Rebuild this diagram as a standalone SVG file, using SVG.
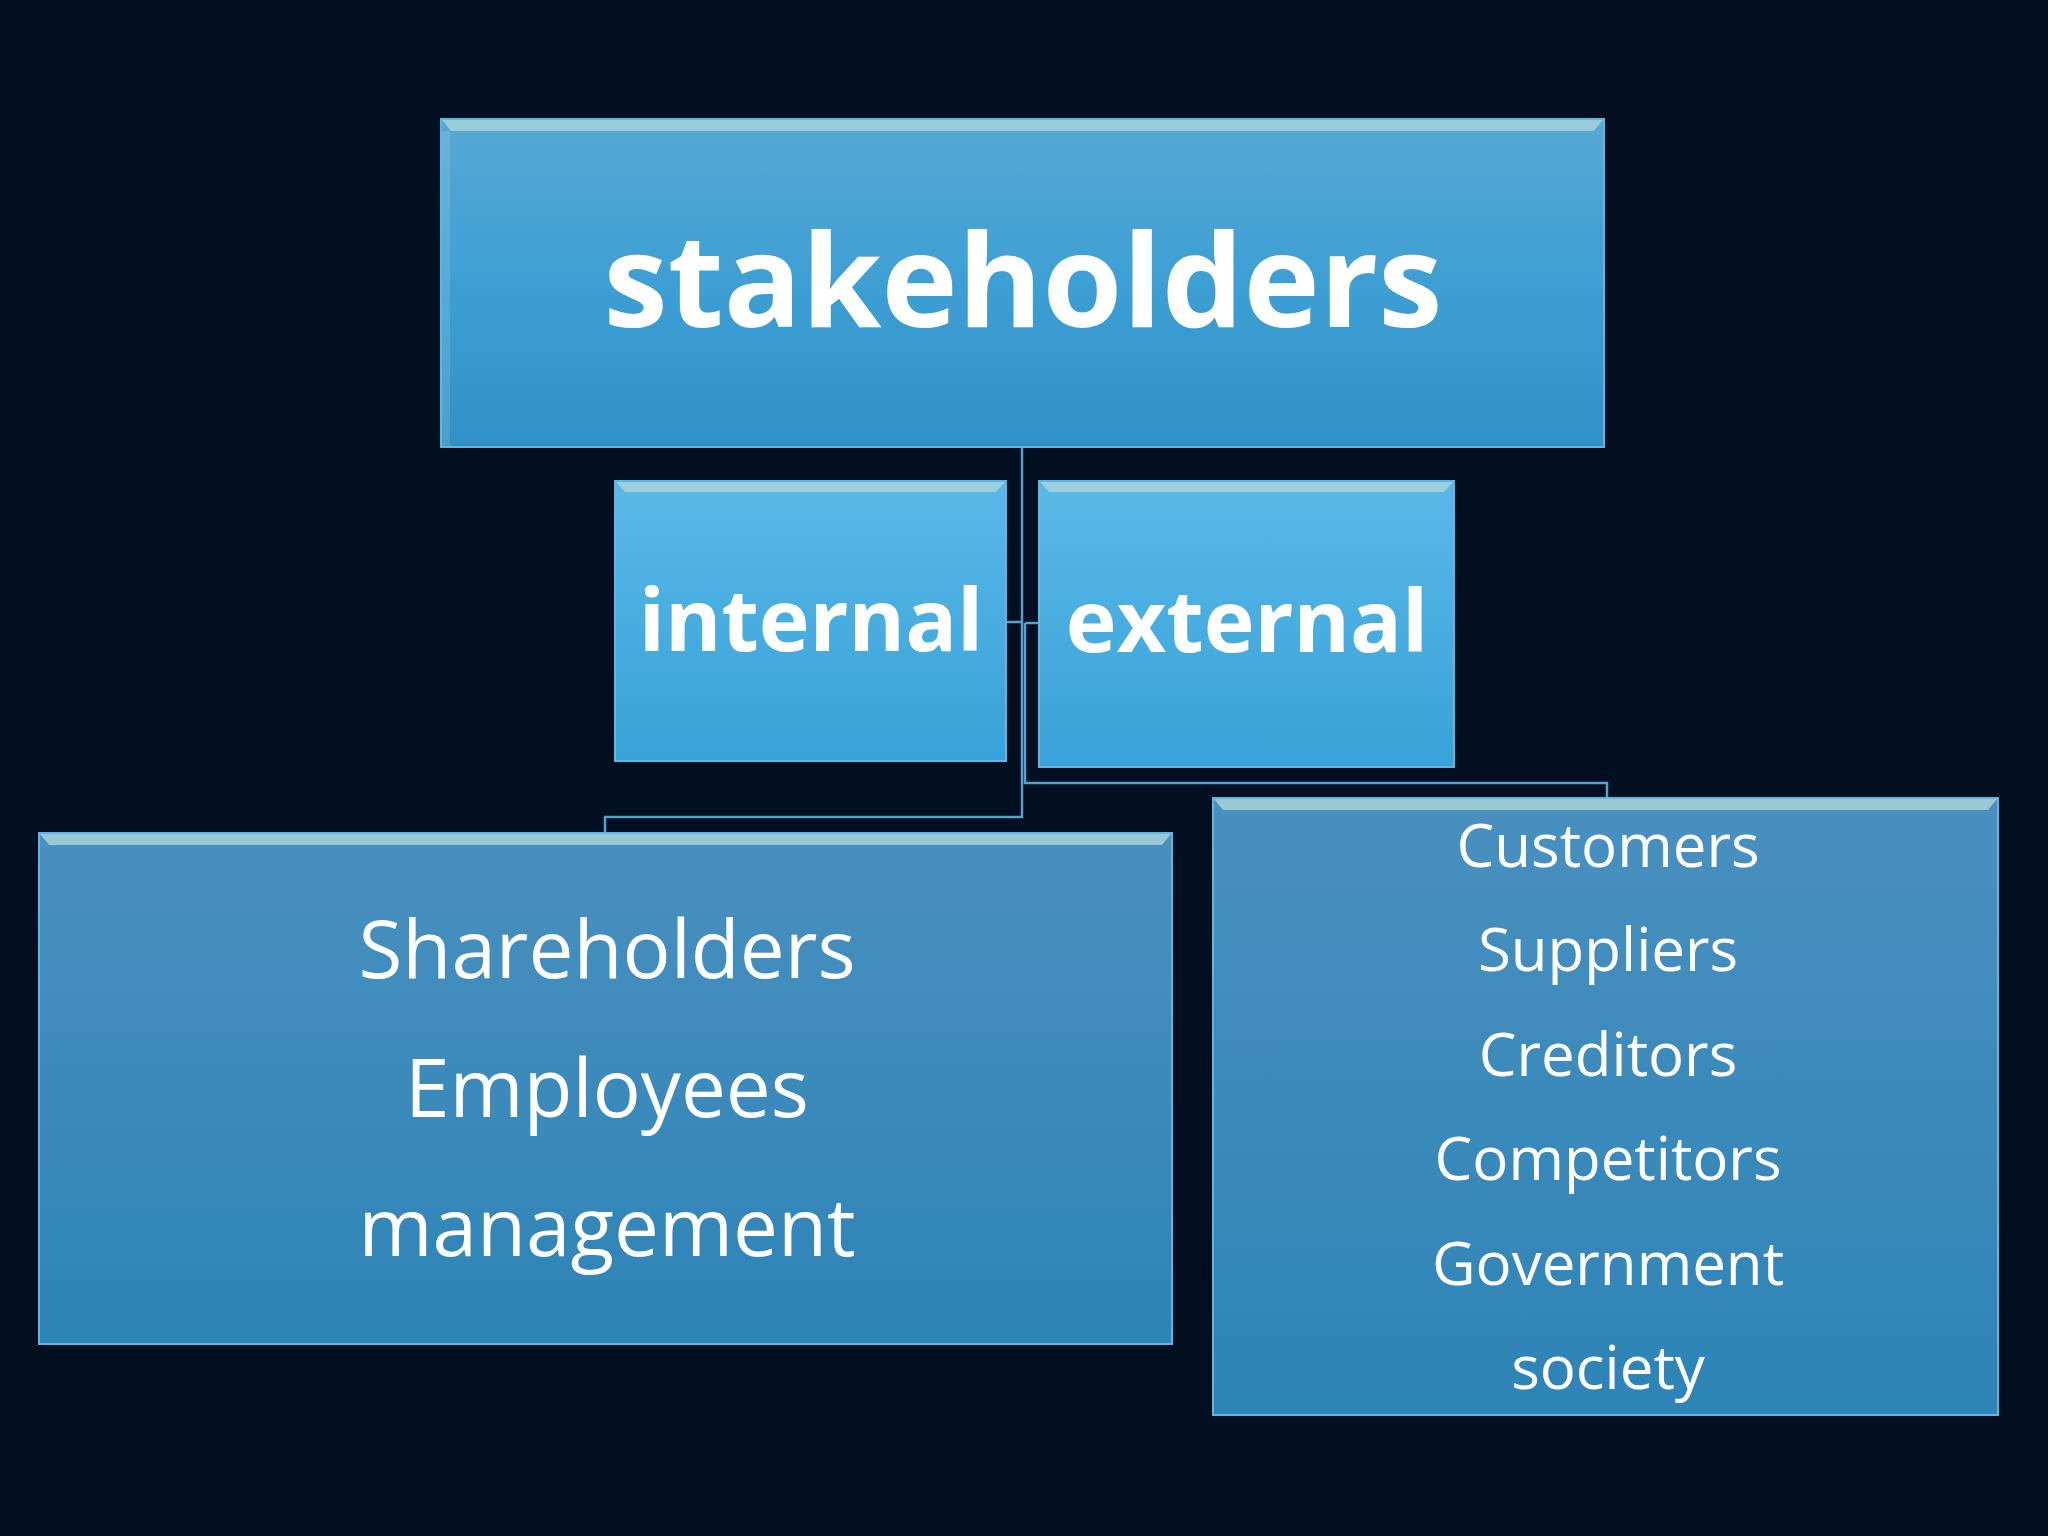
<svg xmlns="http://www.w3.org/2000/svg" width="2048" height="1536" viewBox="0 0 2048 1536">
<style>
.box{stroke:#5cb6e6;stroke-width:2}
.bev{fill:#a8d2d8;opacity:0.85}
.side{fill:#ffffff;opacity:0.12}
.t{fill:#ffffff;font-family:"Open Sans","Liberation Sans",sans-serif;text-anchor:middle}
.b{font-weight:bold}
.con{fill:none;stroke:#5a9ed2;stroke-width:2.5}
</style>
<defs>
<linearGradient id="gTop" x1="0" y1="0" x2="0" y2="1">
<stop offset="0" stop-color="#57a8d4"/><stop offset="0.5" stop-color="#3e9fd4"/><stop offset="1" stop-color="#3191c6"/>
</linearGradient>
<linearGradient id="gMid" x1="0" y1="0" x2="0" y2="1">
<stop offset="0" stop-color="#5ab8e8"/><stop offset="1" stop-color="#38a2d8"/>
</linearGradient>
<linearGradient id="gBot" x1="0" y1="0" x2="0" y2="1">
<stop offset="0" stop-color="#4990bf"/><stop offset="1" stop-color="#2d84b6"/>
</linearGradient>
</defs>
<rect width="2048" height="1536" fill="#010f21"/>
<g id="connectors">
<path class="con" d="M1022 447 V817 H605 V833"/>
<path class="con" d="M1025 623 V783 H1607 V798"/>
<path class="con" d="M1006 622 H1022"/>
<path class="con" d="M1025 623 H1039"/>
</g>
<g id="node-stakeholders">
<rect class="box" x="441" y="119" width="1163" height="328" fill="url(#gTop)"/>
<polygon class="bev" points="442,120 1603,120 1594,131 451,131"/>
<rect class="side" x="442" y="131" width="8" height="315"/>
<text class="t b" x="1023" y="327" font-size="129">stakeholders</text>
</g>
<g id="node-internal">
<rect class="box" x="615" y="481" width="391" height="280" fill="url(#gMid)"/>
<polygon class="bev" points="616,482 1005,482 996,492 625,492"/>
<text class="t b" x="811" y="651" font-size="86">internal</text>
</g>
<g id="node-external">
<rect class="box" x="1039" y="481" width="415" height="286" fill="url(#gMid)"/>
<polygon class="bev" points="1040,482 1453,482 1444,492 1049,492"/>
<text class="t b" x="1247" y="652" font-size="86">external</text>
</g>
<g id="node-internal-list">
<rect class="box" x="39" y="833" width="1133" height="511" fill="url(#gBot)"/>
<polygon class="bev" points="40,834 1171,834 1162,845 49,845"/>
<text class="t" x="607" y="978" font-size="80">Shareholders</text>
<text class="t" x="607" y="1117" font-size="80">Employees</text>
<text class="t" x="607" y="1256" font-size="80">management</text>
</g>
<g id="node-external-list">
<rect class="box" x="1213" y="798" width="785" height="617" fill="url(#gBot)"/>
<polygon class="bev" points="1214,799 1997,799 1988,810 1223,810"/>
<text class="t" x="1608" y="867" font-size="60">Customers</text>
<text class="t" x="1608" y="971" font-size="60">Suppliers</text>
<text class="t" x="1608" y="1076" font-size="60">Creditors</text>
<text class="t" x="1608" y="1180" font-size="60">Competitors</text>
<text class="t" x="1608" y="1285" font-size="60">Government</text>
<text class="t" x="1608" y="1389" font-size="60">society</text>
</g>
</svg>
